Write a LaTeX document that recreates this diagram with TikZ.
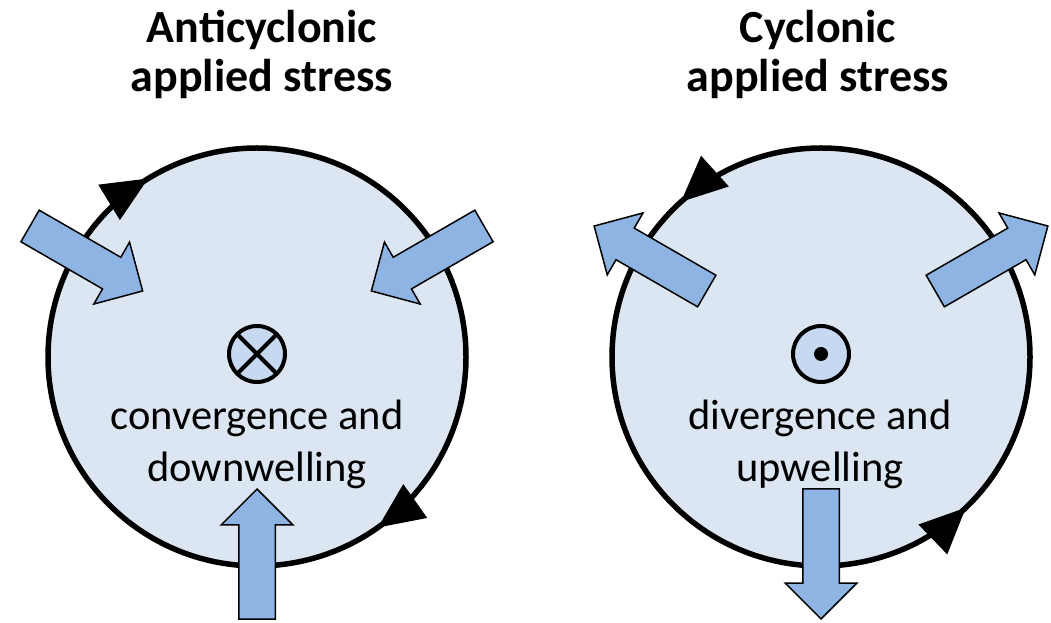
\documentclass[tikz,border=0pt]{standalone}
\usepackage{fontspec}
\setmainfont{Carlito}
\usepackage{tikz}
\usetikzlibrary{arrows.meta,calc,shapes.arrows,decorations.markings}
\definecolor{disc}{HTML}{DCE6F2}
\definecolor{stress}{HTML}{8EB4E3}
\definecolor{core}{HTML}{C6D9F1}

\begin{document}
\begin{tikzpicture}[x=1pt,y=1pt,
basin/.style={draw,line width=5.5pt,fill=disc},
blk/.style={single arrow,draw,line width=1.5pt,fill=stress,minimum height=130pt,minimum width=70pt,
  inner sep=17.5pt,single arrow head extend=17.5pt,anchor=tip},
sym/.style={circle,draw,line width=4pt,fill=core,minimum size=56pt,inner sep=0pt,outer sep=0pt},
ttl/.style={align=center,font=\fontsize{46}{49}\selectfont\bfseries},
lbl/.style={align=center,font=\fontsize{42.5}{52}\selectfont},
cw/.style={postaction={decorate},decoration={markings,
  mark=at position 0.337 with {\arrowreversed{Triangle[length=46pt,width=40pt]}},
  mark=at position 0.848 with {\arrowreversed{Triangle[length=46pt,width=40pt]}}}},
ccw/.style={postaction={decorate},decoration={markings,
  mark=at position 0.367 with {\arrow{Triangle[length=46pt,width=40pt]}},
  mark=at position 0.872 with {\arrow{Triangle[length=46pt,width=40pt]}}}}]
\useasboundingbox (0,0) rectangle (1051,623);
\coordinate (lc) at (257,266);
\coordinate (rc) at (821,266);
% anticyclonic: stress pushes inward
\draw[basin,cw] (lc) circle[radius=209];
\foreach \a/\n in {150/1,30/2,270/3}
  \node[blk,rotate=\a+180] (la\n) at ($(lc)+(\a:131)$) {};
\node[sym] (lsym) at (257,269) {};
\draw[line width=4pt] (lsym.north west)--(lsym.south east) (lsym.north east)--(lsym.south west);
% cyclonic: stress pulls outward
\draw[basin,ccw] (rc) circle[radius=209];
\foreach \a/\n in {150/1,30/2,270/3}
  \node[blk,rotate=\a] (ra\n) at ($(rc)+(\a:263)$) {};
\node[sym] (rsym) at (821,269) {};
\fill (rsym) circle[radius=7];
\node[ttl] (lt) at (262,569) {Anticyclonic\\applied stress};
\node[ttl] (rt) at (818,569) {Cyclonic\\applied stress};
\node[lbl] (ltx) at (257,179) {convergence and\\downwelling};
\node[lbl] (rtx) at (820,179) {divergence and\\upwelling};
\end{tikzpicture}
\end{document}
